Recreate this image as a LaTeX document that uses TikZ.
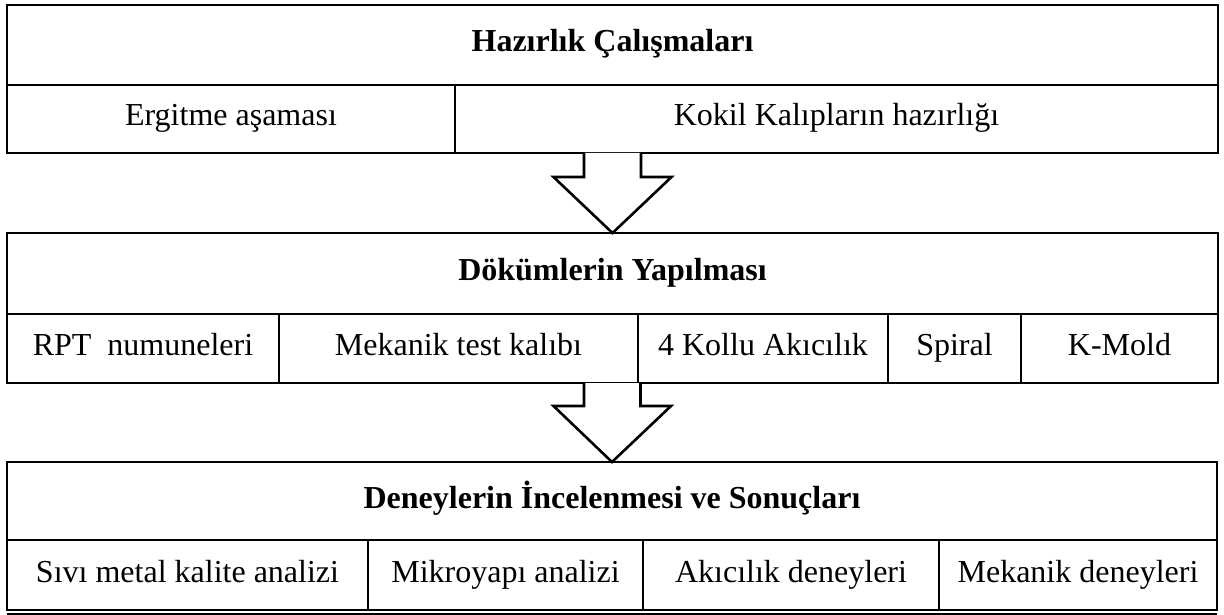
\documentclass[tikz,border=0pt]{standalone}
\usepackage{fontspec}
\usepackage{tikz}
\usetikzlibrary{calc}
\setmainfont{Liberation Serif}
\tikzstyle{akis hucre}=[rectangle, draw, line width=2.6pt, inner sep=0pt, outer sep=0pt,
anchor=north west, text centered, minimum height=68pt, text height=21pt, text depth=7pt,
font=\fontsize{32}{36}\selectfont]
\tikzstyle{akis baslik}=[akis hucre, minimum width=1211pt, minimum height=80pt,
font=\fontsize{32}{36}\selectfont\bfseries]
\tikzstyle{akis ok}=[draw, fill=white, line width=2.6pt, line join=miter]

\begin{document}
\begin{tikzpicture}[x=1pt,y=-1pt]
			\useasboundingbox (0,0) rectangle (1224,615);

			% Hazirlik
			\node[akis baslik] (hazirlik) at (7,5) {Hazırlık Çalışmaları};
			\node[akis hucre, minimum width=448pt] (ergitme) at (hazirlik.south west) {Ergitme aşaması};
			\node[akis hucre, minimum width=763pt] (kokil) at (ergitme.north east) {Kokil Kalıpların hazırlığı};

			% Dokumler
			\node[akis baslik, minimum height=81pt] (dokum) at (7,233) {Dökümlerin Yapılması};
			\node[akis hucre, minimum width=272pt, minimum height=69pt] (rpt) at (dokum.south west) {RPT~~numuneleri};
			\node[akis hucre, minimum width=359pt, minimum height=69pt] (mektest) at (rpt.north east) {Mekanik test kalıbı};
			\node[akis hucre, minimum width=250pt, minimum height=69pt] (kollu) at (mektest.north east) {4 Kollu Akıcılık};
			\node[akis hucre, minimum width=133pt, minimum height=69pt] (spiral) at (kollu.north east) {Spiral};
			\node[akis hucre, minimum width=197pt, minimum height=69pt] (kmold) at (spiral.north east) {K-Mold};

			% Deneyler
			\node[akis baslik, minimum width=1210pt, minimum height=78pt] (deney) at (7,462) {Deneylerin İncelenmesi ve Sonuçları};
			\node[akis hucre, minimum width=361pt, minimum height=70pt] (sivi) at (deney.south west) {Sıvı metal kalite analizi};
			\node[akis hucre, minimum width=275pt, minimum height=70pt] (mikro) at (sivi.north east) {Mikroyapı analizi};
			\node[akis hucre, minimum width=296pt, minimum height=70pt] (akicilik) at (mikro.north east) {Akıcılık deneyleri};
			\node[akis hucre, minimum width=278pt, minimum height=70pt] (mekdeney) at (akicilik.north east) {Mekanik deneyleri};
			\draw[line width=2pt] ([yshift=-3.5pt]sivi.south west) -- ([yshift=-3.5pt]mekdeney.south east);

			% oklar
			\draw[akis ok] ($(hazirlik.south |- kokil.south)+(-28.5,0)$) -- ++(0,24) -- ++(-30.5,0)
				-- (dokum.north) -- ++(59,-56) -- ++(-30.5,0) -- ++(0,-24);
			\draw[akis ok] ($(dokum.south |- kmold.south)+(-28.5,0)$) -- ++(0,23) -- ++(-30.5,0)
				-- (deney.north) -- ++(59,-56) -- ++(-30.5,0) -- ++(0,-23);
		\end{tikzpicture}
\end{document}
